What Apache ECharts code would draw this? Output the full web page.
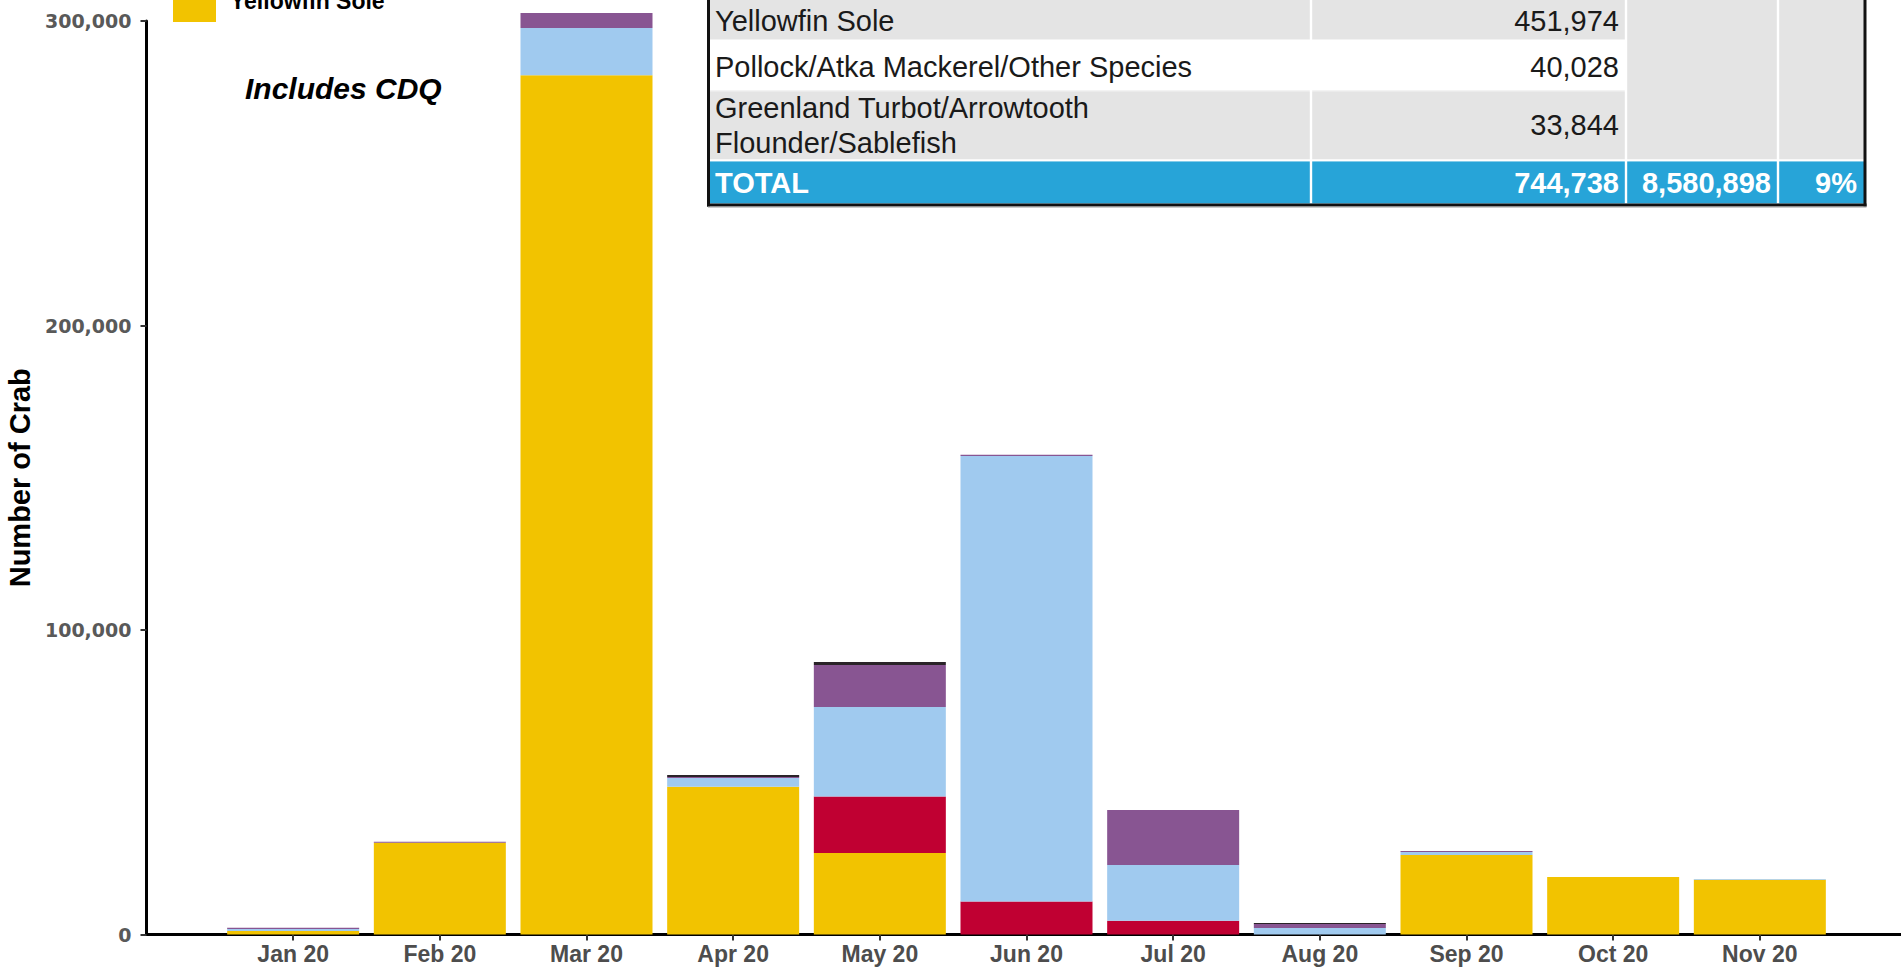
<!DOCTYPE html>
<html>
<head>
<meta charset="utf-8">
<script src="https://cdn.jsdelivr.net/npm/echarts@6/dist/echarts.min.js"></script>
<style>
html,body{margin:0;padding:0;background:#fff;}
#c{width:1901px;height:967px;}
</style>
</head>
<body>
<div id="c"></div>
<script>
// ---- data ----
const categories = ['Jan 20','Feb 20','Mar 20','Apr 20','May 20','Jun 20','Jul 20','Aug 20','Sep 20','Oct 20','Nov 20'];
const yellowfinSole = [1150, 30100, 282200, 48500, 26800, 0, 0, 0, 26100, 18900, 18000];
const greenlandTurbot = [0, 0, 0, 0, 18500, 10850, 4500, 0, 0, 0, 0];
const rockSole = [650, 0, 15500, 2900, 29400, 146300, 18300, 2130, 1000, 0, 200];
const pollockAtka = [420, 330, 4920, 330, 13800, 420, 18070, 1320, 330, 0, 0];
const pacificCod = [0, 0, 0, 650, 990, 0, 0, 330, 0, 0, 0];
const seriesNames = ['Yellowfin Sole','Greenland Turbot/Arrowtooth Flounder/Sablefish','Rock Sole/Flathead Sole/Other Flatfish','Pollock/Atka Mackerel/Other Species','Pacific Cod'];
const seriesColors = ['#F2C300','#C00032','#A0CAEF','#885592','#2A2328'];
const legendShown = ['Yellowfin Sole'];
const yTicks = [0, 100000, 200000, 300000];
const tableLabels = ['Yellowfin Sole','Pollock/Atka Mackerel/Other Species','Greenland Turbot/Arrowtooth\nFlounder/Sablefish'];
const tableValues = ['451,974','40,028','33,844'];
const totalRow = ['TOTAL','744,738','8,580,898','9%'];
const note = 'Includes CDQ';

// ---- build ----
const pad = arr => [null].concat(arr, [null]);
const axisCats = [''].concat(categories, ['']);
const seriesData = [yellowfinSole, greenlandTurbot, rockSole, pollockAtka, pacificCod];
const FONT = "'Liberation Sans', Arial, Helvetica, sans-serif";

const series = seriesData.map((d, i) => ({
  name: seriesNames[i],
  type: 'bar',
  stack: 'total',
  data: pad(d),
  barWidth: '90%',
  clip: false,
  itemStyle: { color: seriesColors[i] },
  emphasis: { disabled: true }
}));

// table graphics
const T = { x0: 709, x1: 1311, x2: 1626, x3: 1778, x4: 1865 };
const rowY = { top: -20, r1: 39.5, r2: 90.8, r3: 159.5, tot: 161.3, bot: 203.5 };
const g = [];
g.push({ type: 'rect', shape: { x: T.x0, y: rowY.top, width: T.x4 - T.x0, height: rowY.r3 - rowY.top }, style: { fill: '#E4E4E4' }, silent: true });
g.push({ type: 'rect', shape: { x: T.x0, y: rowY.r1, width: T.x2 - T.x0, height: rowY.r2 - rowY.r1 }, style: { fill: '#FFFFFF' }, silent: true });
g.push({ type: 'rect', shape: { x: T.x0, y: rowY.r2 - 0.6, width: T.x2 - T.x0, height: 1.2 }, style: { fill: '#F2F2F2' }, silent: true });
g.push({ type: 'rect', shape: { x: T.x0, y: rowY.tot, width: T.x4 - T.x0, height: rowY.bot - rowY.tot }, style: { fill: '#27A4D8' }, silent: true });
[T.x1, T.x2, T.x3].forEach(x => {
  g.push({ type: 'rect', shape: { x: x - 1.2, y: rowY.top, width: 2.4, height: rowY.bot - rowY.top }, style: { fill: '#FFFFFF' }, silent: true });
});
g.push({ type: 'rect', shape: { x: T.x0, y: rowY.r3, width: T.x4 - T.x0, height: rowY.tot - rowY.r3 }, style: { fill: '#FFFFFF' }, silent: true });
// borders
g.push({ type: 'rect', shape: { x: T.x0 - 2, y: rowY.top, width: 3, height: rowY.bot - rowY.top + 3 }, style: { fill: '#111111' }, silent: true });
g.push({ type: 'rect', shape: { x: T.x4 - 1.5, y: rowY.top, width: 3, height: rowY.bot - rowY.top + 3 }, style: { fill: '#111111' }, silent: true });
g.push({ type: 'rect', shape: { x: T.x0 - 2, y: rowY.bot, width: T.x4 - T.x0 + 3.5, height: 3 }, style: { fill: '#111111' }, silent: true });
g.push({ type: 'rect', shape: { x: T.x0 - 1, y: rowY.bot + 3, width: T.x4 - T.x0 + 2.5, height: 1 }, style: { fill: '#9A9A9A' }, silent: true });

const labelCy = [21, 66.7, 125.5];
const valueCy = [21, 66.7, 125];
function txt(text, x, y, align, opts) {
  return {
    type: 'text', x: x, y: y, silent: true,
    style: Object.assign({
      text: text, fill: '#1A1A1A', fontSize: 29, fontFamily: FONT, fontWeight: 'normal',
      textAlign: align, textVerticalAlign: 'middle', align: align, verticalAlign: 'middle', lineHeight: 35
    }, opts || {})
  };
}
tableLabels.forEach((t, i) => g.push(txt(t, 715, labelCy[i], 'left')));
tableValues.forEach((t, i) => g.push(txt(t, 1619, valueCy[i], 'right')));
g.push(txt(totalRow[0], 715, 183, 'left', { fill: '#FFFFFF', fontWeight: 'bold' }));
g.push(txt(totalRow[1], 1619, 183, 'right', { fill: '#FFFFFF', fontWeight: 'bold' }));
g.push(txt(totalRow[2], 1771, 183, 'right', { fill: '#FFFFFF', fontWeight: 'bold' }));
g.push(txt(totalRow[3], 1857, 183, 'right', { fill: '#FFFFFF', fontWeight: 'bold' }));
// note
g.push(txt(note, 245, 88, 'left', { fill: '#000000', fontWeight: 'bold', fontStyle: 'italic', fontSize: 30 }));

const chart = echarts.init(document.getElementById('c'), null, { renderer: 'svg', width: 1901, height: 967 });
chart.setOption({
  animation: false,
  backgroundColor: '#FFFFFF',
  textStyle: { fontFamily: FONT },
  grid: { left: 146.5, top: 21, width: 1760, bottom: 32.5, containLabel: false, outerBoundsMode: 'none' },
  legend: {
    orient: 'vertical',
    left: 173,
    top: -21,
    padding: 0,
    itemWidth: 43,
    itemHeight: 43,
    itemGap: 10,
    icon: 'rect',
    selectedMode: false,
    data: legendShown,
    textStyle: { fontSize: 23, fontWeight: 'bold', color: '#000', fontFamily: FONT, padding: [0, 0, 0, 9] }
  },
  xAxis: {
    type: 'category',
    data: axisCats,
    boundaryGap: false,
    axisLine: { show: true, lineStyle: { color: '#000', width: 3 } },
    axisTick: { show: true, length: 6, interval: function (i) { return i > 0 && i < axisCats.length - 1; }, lineStyle: { color: '#333', width: 2 } },
    axisLabel: { interval: 0, margin: 8, fontSize: 23, fontWeight: 'bold', color: '#4D4D4D', fontFamily: FONT },
    splitLine: { show: false }
  },
  yAxis: {
    type: 'value',
    min: yTicks[0],
    max: yTicks[yTicks.length - 1],
    interval: yTicks[1] - yTicks[0],
    name: 'Number of Crab',
    nameLocation: 'middle',
    nameGap: 108,
    nameRotate: 90,
    nameTextStyle: { fontSize: 29, fontWeight: 'bold', color: '#000', fontFamily: FONT },
    axisLine: { show: true, lineStyle: { color: '#000', width: 3 } },
    axisTick: { show: true, length: 6, lineStyle: { color: '#333', width: 2 } },
    axisLabel: { margin: 15, fontSize: 19, fontWeight: 'bold', color: '#595959', fontFamily: "'DejaVu Sans', Verdana, sans-serif", formatter: v => v.toLocaleString('en-US') },
    splitLine: { show: false }
  },
  series: series,
  graphic: { elements: g }
});
</script>
</body>
</html>
